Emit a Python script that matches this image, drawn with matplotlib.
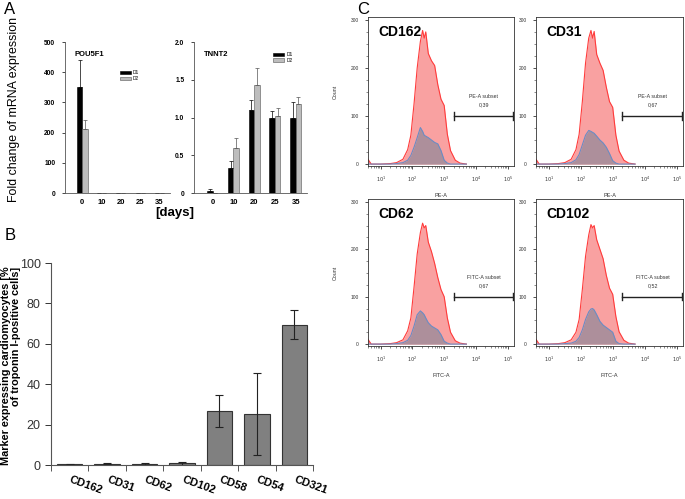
import numpy as np
import matplotlib
matplotlib.use("Agg")
import matplotlib.pyplot as plt
from matplotlib.ticker import MultipleLocator, LogLocator, NullFormatter

plt.rcParams['font.family'] = ['Liberation Sans', 'DejaVu Sans']

# ---- panel A data ----
days = ['0', '10', '20', '25', '35']
pou5f1_d1 = [350, 0.5, 0.5, 0.5, 0.5]
pou5f1_d1_err = [92, 0.5, 0.5, 0.5, 0.5]
pou5f1_d2 = [213, 0.5, 0.5, 0.5, 0.5]
pou5f1_d2_err = [29, 0.5, 0.5, 0.5, 0.5]
tnnt2_d1 = [0.03, 0.33, 1.10, 1.00, 1.00]
tnnt2_d1_err = [0.02, 0.09, 0.13, 0.09, 0.21]
tnnt2_d2 = [0.0, 0.60, 1.43, 1.02, 1.18]
tnnt2_d2_err = [0.0, 0.13, 0.22, 0.10, 0.09]

# ---- panel B data ----
markers = ['CD162', 'CD31', 'CD62', 'CD102', 'CD58', 'CD54', 'CD321']
marker_pct = [0.3, 0.6, 0.7, 0.8, 26.7, 25.3, 69.5]
marker_err = [0.1, 0.3, 0.5, 0.7, 7.8, 20.3, 7.0]

# ---- panel C data (log10 intensity grid, counts) ----
hist_logx = [0.6, 0.7, 1.0, 1.3, 1.5, 1.7, 1.85, 1.95, 2.05, 2.15, 2.25, 2.32,
             2.37, 2.42, 2.5, 2.6, 2.7, 2.8, 2.9, 3.0, 3.1, 3.2, 3.35, 3.5, 3.7]
cd162_red = [10, 0, 0, 1, 3, 10, 30, 60, 125, 200, 255, 278,
             262, 275, 230, 215, 205, 165, 135, 122, 62, 28, 8, 2, 0]
cd162_blue = [0, 0, 0, 0, 1, 3, 8, 18, 35, 55, 76, 68,
              60, 58, 55, 50, 45, 42, 28, 8, 2, 0, 0, 0, 0]
cd31_red = [10, 0, 0, 1, 3, 10, 30, 62, 130, 210, 262, 278,
            262, 276, 228, 210, 195, 160, 130, 118, 60, 27, 8, 2, 0]
cd31_blue = [0, 0, 0, 0, 1, 3, 9, 20, 40, 60, 70, 68,
             66, 64, 58, 50, 44, 35, 22, 7, 2, 0, 0, 0, 0]
cd62_red = [10, 0, 0, 1, 3, 9, 28, 55, 120, 190, 235, 255,
            245, 250, 215, 195, 170, 140, 115, 100, 55, 25, 7, 2, 0]
cd62_blue = [0, 0, 0, 0, 1, 3, 8, 18, 38, 62, 70, 66,
             62, 55, 45, 38, 34, 30, 20, 6, 2, 0, 0, 0, 0]
cd102_red = [10, 0, 0, 1, 3, 9, 25, 52, 115, 185, 230, 252,
             245, 250, 220, 200, 180, 145, 118, 105, 58, 26, 8, 2, 0]
cd102_blue = [0, 0, 0, 0, 1, 2, 6, 14, 30, 52, 68, 74,
              75, 72, 62, 48, 40, 35, 30, 25, 6, 1, 0, 0, 0]
flow_titles = ['CD162', 'CD31', 'CD62', 'CD102']
flow_xlabels = ['PE-A', 'PE-A', 'FITC-A', 'FITC-A']
gate_values = ['0,39', '0,67', '0,67', '0,52']

W, H = 685, 499
fig = plt.figure(figsize=(W / 100, H / 100), dpi=100)


def ax_px(x0, y0, x1, y1):
    return fig.add_axes([x0 / W, 1 - y1 / H, (x1 - x0) / W, (y1 - y0) / H])


# ================= panel A =================
def small_bars(ax, d1, d1e, d2, d2e, ymax, step, title, legend_xy):
    x = np.arange(len(days))
    w = 0.27
    zeros = np.zeros(len(days))
    ax.bar(x - w / 2, d1, w, color='black', edgecolor='black', lw=0.4,
           yerr=[zeros, d1e], error_kw=dict(elinewidth=0.5, capsize=1.2,
                                            capthick=0.5, ecolor='black'),
           label='D1')
    ax.bar(x + w / 2, d2, w, color='#bdbdbd', edgecolor='#555555', lw=0.4,
           yerr=[zeros, d2e], error_kw=dict(elinewidth=0.5, capsize=1.2,
                                            capthick=0.5, ecolor='#555555'),
           label='D2')
    ax.set_xlim(-0.9, 4.55)
    ax.set_ylim(0, ymax)
    ax.set_xticks(x)
    ax.set_xticklabels(days, fontsize=5.5, fontweight='bold')
    ax.set_yticks(np.arange(0, ymax + step / 2, step))
    ax.tick_params(axis='x', length=0, pad=4)
    ax.tick_params(axis='y', length=2, width=0.5, labelsize=4.8, pad=5)
    for lab in ax.get_yticklabels():
        lab.set_fontweight('bold')
    ax.spines['top'].set_visible(False)
    ax.spines['right'].set_visible(False)
    for s in ('left', 'bottom'):
        ax.spines[s].set_linewidth(0.6)
        ax.spines[s].set_color('#555555')
    ax.text(0.09, 0.91, title, transform=ax.transAxes, fontsize=5.5,
            fontweight='bold')
    ax.legend(loc='upper left', bbox_to_anchor=legend_xy, frameon=False,
              fontsize=3.5, handlelength=2.2, handleheight=0.6,
              labelspacing=0.15, handletextpad=0.5, borderpad=0)


axA1 = ax_px(65, 42, 170, 193)
small_bars(axA1, pou5f1_d1, pou5f1_d1_err, pou5f1_d2, pou5f1_d2_err,
           500, 100, 'POU5F1', (0.5, 0.83))
axA2 = ax_px(194, 42, 307, 193)
small_bars(axA2, tnnt2_d1, tnnt2_d1_err, tnnt2_d2, tnnt2_d2_err,
           2.0, 0.5, 'TNNT2', (0.68, 0.95))
axA2.set_yticklabels(['0', '0.5', '1.0', '1.5', '2.0'], fontweight='bold')

fig.text(14 / W, 1 - 109 / H, 'Fold change of mRNA expression', rotation=90,
         fontsize=8.9, ha='center', va='center')
fig.text(175 / W, 1 - 213 / H, '[days]', fontsize=9.5, fontweight='bold',
         ha='center', va='center')
fig.text(4 / W, 1 - 9 / H, 'A', fontsize=12, ha='left', va='center')

# ================= panel B =================
axB = ax_px(51, 263, 313, 465)
xb = np.arange(len(markers))
axB.bar(xb, marker_pct, 0.68, color='#808080', edgecolor='#333333', lw=0.8,
        yerr=marker_err, error_kw=dict(elinewidth=0.8, capsize=3,
                                       capthick=0.8, ecolor='#222222'))
axB.set_xlim(-0.5, len(markers) - 0.5)
axB.set_ylim(0, 100)
axB.set_yticks(range(0, 101, 20))
axB.tick_params(axis='y', labelsize=9, length=4, width=0.7, colors='#333333')
axB.set_xticks(np.arange(-0.5, len(markers), 1))
axB.set_xticklabels([])
axB.tick_params(axis='x', which='major', length=4, width=0.7, color='#555555')
axB.set_xticks(xb + 0.05, minor=True)
axB.set_xticklabels(markers, minor=True, rotation=-20, ha='left',
                    rotation_mode='anchor', fontsize=8, fontweight='bold')
axB.tick_params(axis='x', which='minor', length=0, pad=7)
axB.spines['top'].set_visible(False)
axB.spines['right'].set_visible(False)
for s in ('left', 'bottom'):
    axB.spines[s].set_linewidth(0.8)
    axB.spines[s].set_color('#555555')
fig.text(11 / W, 1 - 366 / H,
         'Marker expressing cardiomyocytes [%\nof troponin I-positive cells]',
         rotation=90, fontsize=7.8, fontweight='bold', ha='center',
         va='center', linespacing=1.0, multialignment='right')
fig.text(5 / W, 1 - 236 / H, 'B', fontsize=12, ha='left', va='center')

# ================= panel C =================
flow_boxes = [(368, 17, 514, 166), (536, 17, 683, 166),
              (368, 199, 514, 346), (536, 199, 683, 346)]
reds = [cd162_red, cd31_red, cd62_red, cd102_red]
blues = [cd162_blue, cd31_blue, cd62_blue, cd102_blue]
xs = 10 ** np.array(hist_logx)
for i, box in enumerate(flow_boxes):
    ax = ax_px(*box)
    ax.fill_between(xs, reds[i], color='#f9a1a1', lw=0)
    ax.plot(xs, reds[i], color='#ff3b3b', lw=0.8)
    ax.fill_between(xs, blues[i], color='#ad8f9b', lw=0)
    ax.plot(xs, blues[i], color='#6a8cc4', lw=0.8)
    ax.set_xscale('log')
    ax.set_xlim(10 ** 0.6, 10 ** 5.2)
    ax.set_ylim(-4, 306)
    ax.set_yticks([0, 100, 200, 300])
    ax.yaxis.set_minor_locator(MultipleLocator(25))
    ax.set_xticks([10, 100, 1000, 10000, 100000])
    ax.set_xticklabels(['$10^{%d}$' % k for k in range(1, 6)])
    ax.xaxis.set_minor_locator(LogLocator(base=10, subs=np.arange(2, 10)))
    ax.xaxis.set_minor_formatter(NullFormatter())
    ax.tick_params(which='major', labelsize=3.5, length=2.5, width=0.6,
                   pad=4, colors='#333333')
    ax.tick_params(which='minor', length=1.3, width=0.4, color='#333333')
    for s in ax.spines.values():
        s.set_linewidth(0.6)
        s.set_color('#333333')
    ax.set_xlabel(flow_xlabels[i], fontsize=4, labelpad=6, color='#333333')
    if i % 2 == 0:
        ax.set_ylabel('Count', fontsize=3.8, labelpad=9, color='#333333')
    ax.text(0.07, 0.9, flow_titles[i], transform=ax.transAxes, fontsize=10,
            fontweight='bold', va='center')
    # gate
    g0, g1 = 10 ** 3.3, 10 ** 5.17
    ax.plot([g0, g1], [100, 100], color='#222222', lw=1.0)
    ax.plot([g0, g0], [92, 108], color='#222222', lw=1.0)
    ax.plot([g1, g1], [92, 108], color='#222222', lw=1.0)
    ax.text(10 ** 4.25, 140, flow_xlabels[i] + ' subset', fontsize=3.8,
            ha='center', va='center', color='#333333')
    ax.text(10 ** 4.25, 124, gate_values[i], fontsize=3.8, ha='center',
            va='center', color='#333333')

fig.text(357 / W, 1 - 10 / H, 'C', fontsize=12, ha='left', va='center')

fig.savefig('out.png', dpi=100)
